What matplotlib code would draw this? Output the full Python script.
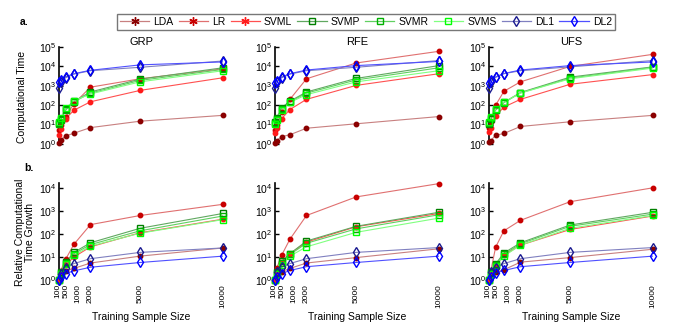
import matplotlib
matplotlib.use('Agg')
import matplotlib.pyplot as plt
import matplotlib.transforms as mtransforms
from matplotlib.lines import Line2D

plt.rcParams['font.family'] = ['Liberation Sans', 'DejaVu Sans']

sizes = [100, 200, 500, 1000, 2000, 5000, 10000]
size_ticks = [100, 500, 1000, 2000, 5000, 10000]
methods = ['LDA', 'LR', 'SVML', 'SVMP', 'SVMR', 'SVMS', 'DL1', 'DL2']
columns = ['GRP', 'RFE', 'UFS']

# computational time (row a)
grp_time = dict(
    LDA=[1.1, 1.6, 2.6, 3.6, 7, 15, 30],
    LR=[5, 9, 25, 120, 850, 2300, 7500],
    SVML=[3, 6, 20, 55, 150, 580, 2600],
    SVMP=[12, 20, 65, 160, 480, 2200, 8500],
    SVMR=[11, 18, 55, 150, 420, 1900, 7000],
    SVMS=[14, 22, 70, 170, 380, 1600, 6000],
    DL1=[800, 1500, 2600, 4000, 6000, 9000, 19000],
    DL2=[1500, 1900, 2900, 4200, 6300, 12000, 17000])
rfe_time = dict(
    LDA=[1.1, 1.5, 2.4, 3, 6.5, 11, 26],
    LR=[5, 10, 47, 200, 2300, 15000, 60000],
    SVML=[3.5, 7, 20, 60, 200, 1050, 4200],
    SVMP=[13, 22, 75, 160, 480, 2400, 11000],
    SVMR=[12, 20, 65, 150, 420, 2000, 8500],
    SVMS=[11, 17, 55, 140, 350, 1600, 6000],
    DL1=[800, 1500, 2600, 4000, 6000, 9000, 20000],
    DL2=[1400, 1800, 2800, 4200, 6500, 11000, 18000])
ufs_time = dict(
    LDA=[1.2, 1.5, 2.8, 3.5, 8, 14, 30],
    LR=[6.5, 14, 100, 520, 1600, 10000, 42000],
    SVML=[4, 7, 28, 80, 200, 1200, 3800],
    SVMP=[11, 20, 60, 140, 450, 2800, 9500],
    SVMR=[12, 22, 55, 135, 430, 2500, 9000],
    SVMS=[13, 24, 65, 145, 420, 2300, 8200],
    DL1=[800, 1500, 2700, 4200, 6000, 9500, 20000],
    DL2=[1400, 1900, 2900, 4300, 6500, 11000, 17000])

# relative growth (row b)
grp_growth = dict(
    LDA=[1, 1.6, 2.5, 3.2, 5.5, 11, 25],
    LR=[1, 2.5, 8, 36, 260, 650, 2000],
    SVML=[1, 2, 4.5, 10, 28, 115, 450],
    SVMP=[1, 2.2, 6, 16, 42, 180, 800],
    SVMR=[1, 2, 5.5, 14, 35, 140, 620],
    SVMS=[1, 1.8, 5, 12, 30, 110, 430],
    DL1=[1, 1.8, 3.5, 5.2, 8.5, 16, 25],
    DL2=[1, 1.3, 1.9, 2.5, 3.6, 5.8, 11])
rfe_growth = dict(
    LDA=[1, 1.4, 2.3, 3.2, 5.5, 9.5, 23],
    LR=[1, 3.2, 12, 60, 650, 4200, 16000],
    SVML=[1, 2.2, 6, 14, 45, 210, 800],
    SVMP=[1, 2.3, 6.5, 14, 50, 220, 900],
    SVMR=[1, 2, 5.5, 13, 40, 170, 700],
    SVMS=[1, 1.8, 4.5, 11, 28, 120, 500],
    DL1=[1, 2.2, 3.6, 5.2, 8.5, 16, 26],
    DL2=[1, 1.4, 1.9, 2.6, 3.8, 5.8, 11])
ufs_growth = dict(
    LDA=[1, 1.4, 2.2, 2.8, 6, 9.5, 22],
    LR=[1, 2.3, 27, 140, 400, 2600, 10500],
    SVML=[1, 2, 4, 12, 33, 160, 620],
    SVMP=[1, 2.2, 5, 15, 42, 250, 900],
    SVMR=[1, 2, 4.5, 13, 38, 220, 750],
    SVMS=[1, 1.8, 4.2, 11, 33, 180, 650],
    DL1=[1, 2.2, 3.4, 5.2, 8.5, 16, 26],
    DL2=[1, 1.4, 2, 2.6, 3.8, 5.8, 11])

# marker colour, line colour, legend marker, plotted marker, size
star = (6, 2, 0)
style = {
    'LDA':  ('#8b0000', '#c88080', star, 'o', 3.2),
    'LR':   ('#c80000', '#e07070', star, 'o', 3.2),
    'SVML': ('#ff1a1a', '#ff5050', star, 'o', 3.2),
    'SVMP': ('#008000', '#60a860', 's', 's', 4.5),
    'SVMR': ('#00b000', '#60d060', 's', 's', 4.5),
    'SVMS': ('#00ff00', '#80ff80', 's', 's', 4.5),
    'DL1':  ('#1a1a90', '#8080c0', 'd', 'd', 5.5),
    'DL2':  ('#0000ff', '#5050ff', 'd', 'd', 5.5),
}

fig = plt.figure(figsize=(6.76, 3.31), dpi=100)
W, H = 676.0, 331.0

lefts = [59, 275, 489]
width = 164
rows = [(47, 144, [grp_time, rfe_time, ufs_time], 5),
        (183, 280, [grp_growth, rfe_growth, ufs_growth], 4.23)]
# small sideways nudges (px) so the crowded first tick labels stay readable
nudges = [-1.5, 1.0, 3.5, 0, 0, 0]

for r, (top, bot, datas, ymax_exp) in enumerate(rows):
    for c in range(3):
        ax = fig.add_axes([lefts[c] / W, 1 - bot / H, width / W, (bot - top) / H])
        data = datas[c]
        for m in methods:
            mc, lc, _, pm, ms = style[m]
            ax.plot(sizes, data[m], color=lc, lw=0.8, zorder=2)
            face = mc if pm == 'o' else 'none'
            ax.plot(sizes, data[m], ls='none', marker=pm, ms=ms, mec=mc,
                    mfc=face, mew=1.0, zorder=3, clip_on=False)
        ax.set_yscale('log')
        ax.set_ylim(1, 10 ** ymax_exp)
        ax.set_xlim(100, 10000)
        for s in ['top', 'right', 'bottom']:
            ax.spines[s].set_visible(False)
        ax.spines['left'].set_linewidth(1.2)
        ax.tick_params(axis='y', which='major', direction='in', length=3,
                       width=1, labelsize=7.5, pad=2)
        ax.tick_params(axis='y', which='minor', direction='in', length=1.5, width=0.6)
        if r == 0:
            ax.set_yticks([1, 10, 100, 1e3, 1e4, 1e5])
            ax.set_xticks([])
            ax.set_title(columns[c], fontsize=8, pad=-1)
        else:
            ax.set_yticks([1, 10, 100, 1e3, 1e4])
            ax.set_xticks(size_ticks)
            ax.set_xticklabels([str(v) for v in size_ticks], rotation=90)
            ax.tick_params(axis='x', length=0, labelsize=6, pad=3)
            for lab, dx in zip(ax.get_xticklabels(), nudges):
                if dx:
                    lab.set_transform(lab.get_transform() +
                                      mtransforms.ScaledTranslation(dx / 100, 0, fig.dpi_scale_trans))
            ax.set_xlabel('Training Sample Size', fontsize=7.5, labelpad=3)
        ax.minorticks_on()
        ax.xaxis.set_minor_locator(matplotlib.ticker.NullLocator())

fig.text(22 / W, 1 - 97 / H, 'Computational Time', rotation=90,
         ha='center', va='center', fontsize=7.5)
fig.text(25 / W, 1 - 232 / H, 'Relative Computational\nTime Growth', rotation=90,
         ha='center', va='center', fontsize=7.5, linespacing=1.1)
fig.text(20 / W, 1 - 22 / H, 'a.', fontsize=7.5, fontweight='bold', va='center')
fig.text(24 / W, 1 - 168 / H, 'b.', fontsize=7.5, fontweight='bold', va='center')

handles = []
for m in methods:
    mc, lc, lm, _, ms = style[m]
    handles.append(Line2D([], [], color=lc, lw=0.9, marker=lm,
                          ms=6 if lm == star else 5, mec=mc, mfc='none', mew=1.0))
fig.legend(handles, methods, loc='center', bbox_to_anchor=(366 / W, 1 - 22 / H),
           ncol=8, fontsize=7.5, frameon=True, fancybox=False, edgecolor='#555555',
           handlelength=2.8, handletextpad=0.4, columnspacing=0.5, borderpad=0.3)

plt.savefig('out.png', dpi=100)
